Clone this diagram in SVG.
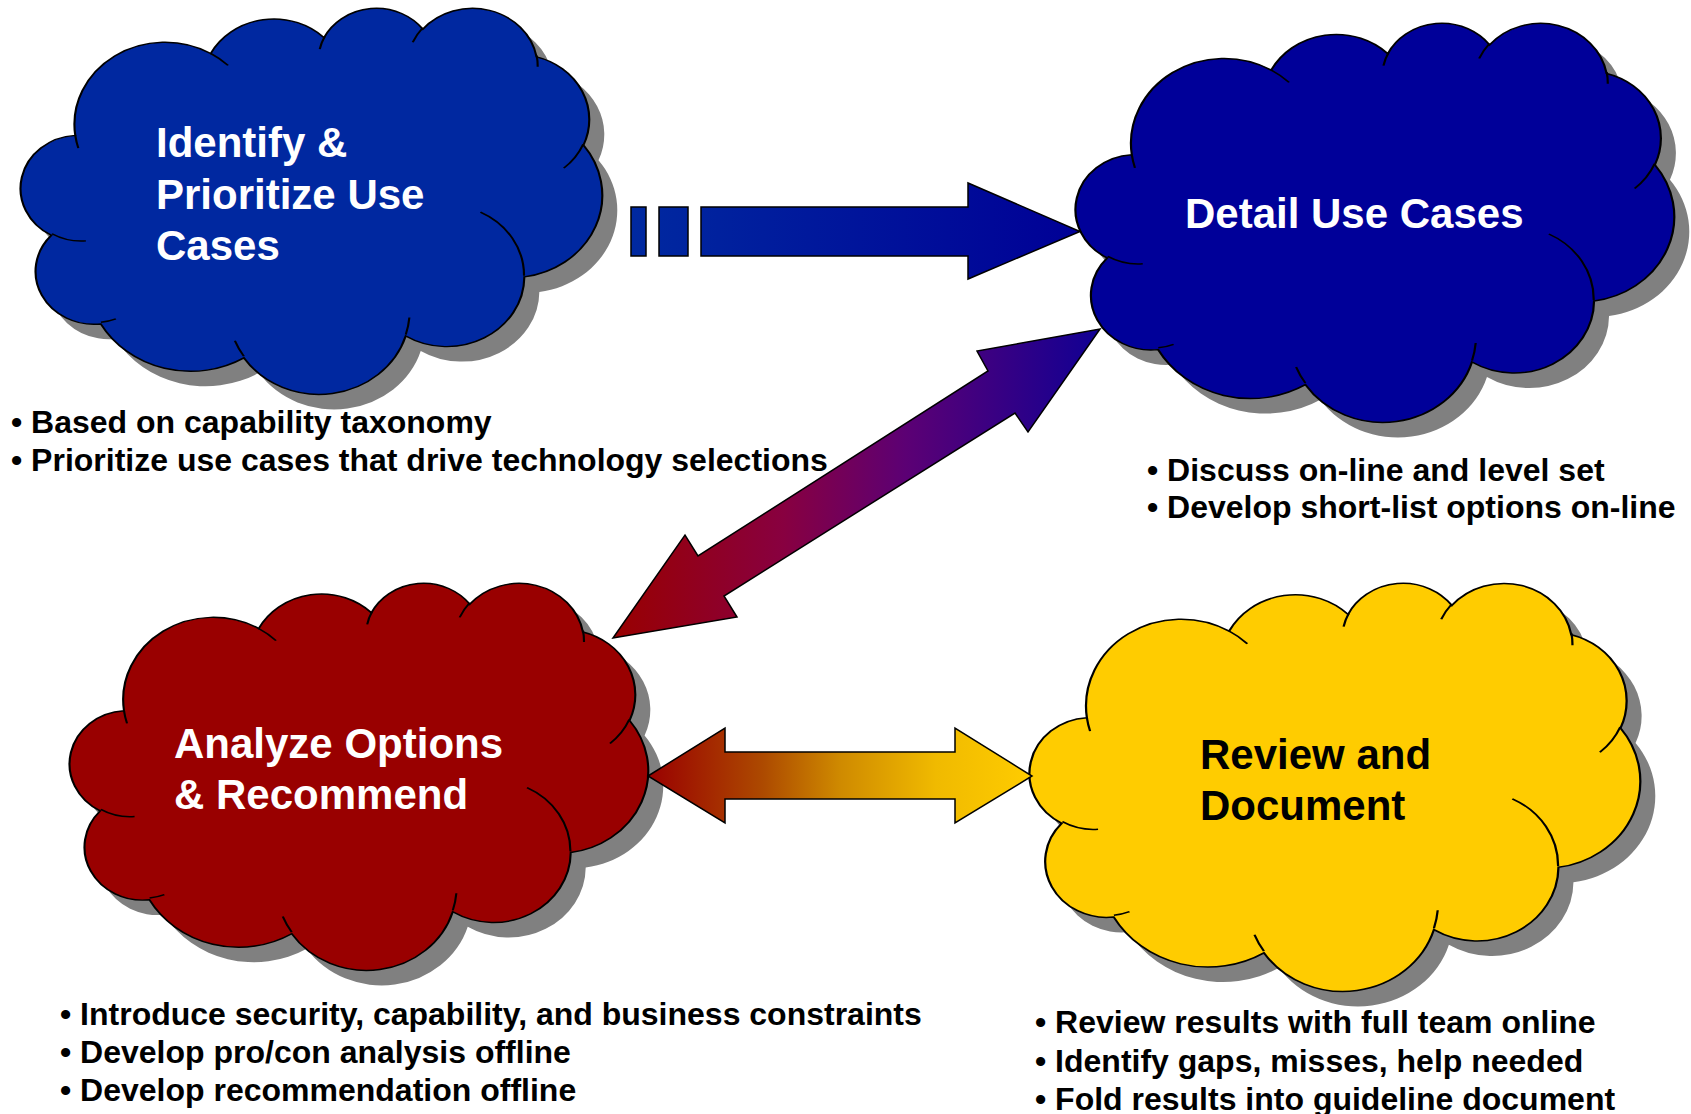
<svg xmlns="http://www.w3.org/2000/svg" xmlns:xlink="http://www.w3.org/1999/xlink" width="1691" height="1114" viewBox="0 0 1691 1114">
<style>
.shadow{fill:#808080;stroke:none}
.body{stroke:#000;stroke-width:1.6;vector-effect:non-scaling-stroke}
.inner{fill:none;stroke:#000;stroke-width:1.6;vector-effect:non-scaling-stroke}
.title{font-family:"Liberation Sans",Arial,sans-serif;font-weight:bold;font-size:42px}
.bullet{font-family:"Liberation Sans",Arial,sans-serif;font-weight:bold;font-size:32px;fill:#000}
.arrow{stroke:#000;stroke-width:1.5;stroke-linejoin:miter}
</style>
<defs>
<path id="cloudOutline" d="M39 143.7 A67.53 91.9 0 0 1 140.06 52.03 A53.33 72.67 0 0 1 224.57 34.33 A43.65 59.45 0 0 1 298.34 24.81 A48.57 65.95 0 0 1 383.18 55.78 A53.33 72.73 0 0 1 418.19 154.62 A67.75 92.2 0 0 1 374.05 302.05 A57.85 78.67 0 0 1 285.56 368.16 A67.52 92.15 0 0 1 164.81 392.68 A77.2 105.43 0 0 1 58.06 354.72 A43.6 59.18 0 0 1 21.15 255.49 A43.45 59.45 0 0 1 39 143.7 Z"/>
<path id="cloudInner" d="M46.93 261.77 A43.45 59.45 0 0 1 21.59 253.8 M69.28 348.99 A43.6 59.18 0 0 1 58.2 352.8 M164.78 390.9 A67.52 92.15 0 0 1 158.1 373.49 M288.27 347.51 A67.52 92.15 0 0 1 285.6 366.6 M341.29 229.54 A57.85 78.67 0 0 1 373.81 300.9 M417.98 153.54 A53.33 72.73 0 0 1 403.5 180.3 M383.24 54.26 A48.57 65.95 0 0 1 384 66.9 M290.78 39.52 A48.57 65.95 0 0 1 298.21 23.38 M221.41 47.2 A43.65 59.45 0 0 1 225 33.3 M140 51.92 A67.53 91.9 0 0 1 152.99 65.4 M41.27 157.89 A67.53 91.9 0 0 1 39 143.7"/>
<linearGradient id="gDash" gradientUnits="userSpaceOnUse" x1="631" y1="0" x2="1080" y2="0">
<stop offset="0" stop-color="#0029A0"/>
<stop offset="1" stop-color="#000096"/>
</linearGradient>
<linearGradient id="gDiag" gradientUnits="userSpaceOnUse" x1="613" y1="0" x2="1100" y2="0">
<stop offset="0" stop-color="#990000"/>
<stop offset="0.35" stop-color="#880040"/>
<stop offset="0.6" stop-color="#5C0074"/>
<stop offset="1" stop-color="#100094"/>
</linearGradient>
<linearGradient id="gHoriz" gradientUnits="userSpaceOnUse" x1="648" y1="0" x2="1032" y2="0">
<stop offset="0" stop-color="#990000"/>
<stop offset="0.3" stop-color="#AD4A00"/>
<stop offset="0.5" stop-color="#CF8A00"/>
<stop offset="0.75" stop-color="#F0BA00"/>
<stop offset="1" stop-color="#FFCC00"/>
</linearGradient>
</defs>

<g id="node-identify">
<use href="#cloudOutline" class="shadow" transform="translate(38,22) scale(1.3403,0.8935)"/>
<use href="#cloudOutline" class="body" fill="#0028A0" transform="translate(23,7) scale(1.3403,0.8935)"/>
<use href="#cloudInner" class="inner" transform="translate(23,7) scale(1.3403,0.8935)"/>
<text class="title" fill="#fff" x="156" y="157">Identify &amp;</text>
<text class="title" fill="#fff" x="156" y="209">Prioritize Use</text>
<text class="title" fill="#fff" x="156" y="260">Cases</text>
</g>

<g id="node-detail">
<use href="#cloudOutline" class="shadow" transform="translate(1093,37) scale(1.3796,0.9236)"/>
<use href="#cloudOutline" class="body" fill="#000099" transform="translate(1078,22) scale(1.3796,0.9236)"/>
<use href="#cloudInner" class="inner" transform="translate(1078,22) scale(1.3796,0.9236)"/>
<text class="title" fill="#fff" x="1185" y="228">Detail Use Cases</text>
</g>

<g id="node-analyze">
<use href="#cloudOutline" class="shadow" transform="translate(87,597) scale(1.3333,0.8958)"/>
<use href="#cloudOutline" class="body" fill="#990000" transform="translate(72,582) scale(1.3333,0.8958)"/>
<use href="#cloudInner" class="inner" transform="translate(72,582) scale(1.3333,0.8958)"/>
<text class="title" fill="#fff" x="174" y="758">Analyze Options</text>
<text class="title" fill="#fff" x="174" y="809">&amp; Recommend</text>
</g>

<g id="node-review">
<use href="#cloudOutline" class="shadow" transform="translate(1047,597) scale(1.4074,0.9444)"/>
<use href="#cloudOutline" class="body" fill="#FFCC00" transform="translate(1032,582) scale(1.4074,0.9444)"/>
<use href="#cloudInner" class="inner" transform="translate(1032,582) scale(1.4074,0.9444)"/>
<text class="title" fill="#000" x="1200" y="769">Review and</text>
<text class="title" fill="#000" x="1200" y="820">Document</text>
</g>

<g id="connectors">
<g id="arrow-identify-detail">
<rect class="arrow" x="631" y="207" width="15" height="49" fill="url(#gDash)"/>
<rect class="arrow" x="659" y="207" width="29" height="49" fill="url(#gDash)"/>
<polygon class="arrow" fill="url(#gDash)" points="701,207 968,207 968,183 1080,231.5 968,279 968,256 701,256"/>
</g>
<polygon id="arrow-detail-analyze" class="arrow" fill="url(#gDiag)" points="1100,329 1028,432 1015,413 724,596 737,617 613,638 685,535 698,556 988,371 977,351"/>
<polygon id="arrow-analyze-review" class="arrow" fill="url(#gHoriz)" points="648,776 725,728 725,752 955,752 955,728 1032,776 955,823 955,799 725,799 725,823"/>
</g>

<g id="notes-identify">
<text class="bullet" x="11" y="433">• Based on capability taxonomy</text>
<text class="bullet" x="11" y="471">• Prioritize use cases that drive technology selections</text>
</g>
<g id="notes-detail">
<text class="bullet" x="1147" y="481">• Discuss on-line and level set</text>
<text class="bullet" x="1147" y="518">• Develop short-list options on-line</text>
</g>
<g id="notes-analyze">
<text class="bullet" x="60" y="1025">• Introduce security, capability, and business constraints</text>
<text class="bullet" x="60" y="1063">• Develop pro/con analysis offline</text>
<text class="bullet" x="60" y="1101">• Develop recommendation offline</text>
</g>
<g id="notes-review">
<text class="bullet" x="1035" y="1033">• Review results with full team online</text>
<text class="bullet" x="1035" y="1072">• Identify gaps, misses, help needed</text>
<text class="bullet" x="1035" y="1110">• Fold results into guideline document</text>
</g>
</svg>
